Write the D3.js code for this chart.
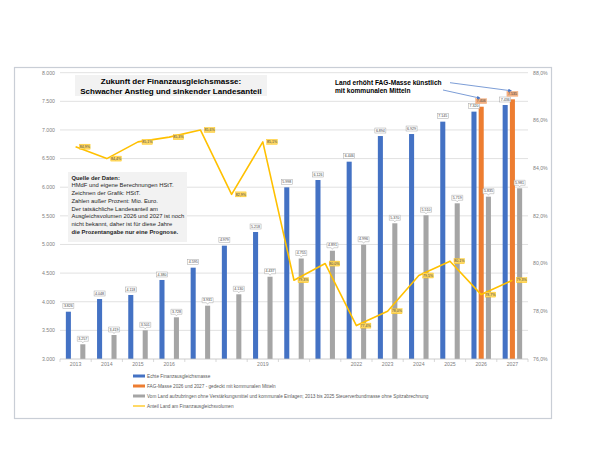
<!DOCTYPE html>
<html><head><meta charset="utf-8">
<script src="https://cdn.jsdelivr.net/npm/d3@7"></script>
<style>body{margin:0;background:#fff}svg{display:block}text{font-family:"Liberation Sans",Arial,sans-serif}</style>
</head><body>
<svg id="c" width="589" height="475"></svg>
<script>
const years = ["2013","2014","2015","2016","2017","2018","2019","2020","2021","2022","2023","2024","2025","2026","2027"];
const tickLabels = ["2013","2014","2015","2016","","","2019","","","2022","2023","2024","2025","2026","2027"];
const echteMasse = [3826,4048,4118,4380,4595,4979,5218,5998,6126,6446,6894,6929,7145,7320,7436];
const fagKommunal = [null,null,null,null,null,null,null,null,null,null,null,null,null,7406,7535];
const vomLand = [3257,3419,3501,3728,3931,4130,4437,4755,4891,4996,5370,5510,5719,5835,5981];
const anteilLand = [84.9,84.4,85.1,85.3,85.6,82.9,85.1,79.3,80.0,77.4,78.0,79.5,80.1,78.7,79.3];
const leftTicks = [3000,3500,4000,4500,5000,5500,6000,6500,7000,7500,8000];
const rightTicks = [76,78,80,82,84,86,88];
const seriesNames = ["Echte Finanzausgleichsmasse","FAG-Masse 2026 und 2027 - gedeckt mit kommunalen Mitteln","Vom Land aufzubringen ohne Verstärkungsmittel und kommunale Einlagen; 2013 bis 2025 Steuerverbundmasse ohne Spitzabrechnung","Anteil Land am Finanzausgleichsvolumen"];
const colors = ["#4472C4","#ED7D31","#A5A5A5","#FFC000"];
const infoLines = ["Quelle der Daten:","HMdF und eigene Berechnungen HStT.","Zeichnen der Grafik: HStT.","Zahlen außer Prozent: Mio. Euro.","Der tatsächliche Landesanteil am","Ausgleichsvolumen 2026 und 2027 ist noch","nicht bekannt, daher ist für diese Jahre","die Prozentangabe nur eine Prognose."];

const svg = d3.select("#c");
const L=60,R=528,T=72.7,B=359;
const fmt = d3.formatLocale({decimal:",",thousands:".",grouping:[3]});
const fInt = fmt.format(",.0f");
const fPct = fmt.format(".1f");

svg.append("rect").attr("x",14.5).attr("y",67.5).attr("width",537).attr("height",351)
  .attr("fill","#fff").attr("stroke","#c9ced6").attr("stroke-width",1.2);

const x0 = d3.scaleBand().domain(years).range([L,R]).paddingInner(0.375).paddingOuter(0.1875);
const x1 = d3.scaleBand().domain([0,1,2]).range([0,x0.bandwidth()]).paddingInner(0.3);
const yL = d3.scaleLinear().domain([3000,8000]).range([B,T]);
const yR = d3.scaleLinear().domain([76,88]).range([B,T]);

svg.append("g").selectAll("line").data(leftTicks.slice(1)).join("line")
  .attr("x1",L).attr("x2",R).attr("y1",d=>yL(d)).attr("y2",d=>yL(d))
  .attr("stroke","#d9d9d9").attr("stroke-width",0.8);

svg.append("g").selectAll("text").data(leftTicks).join("text")
  .attr("x",55).attr("y",d=>yL(d)+1.8).attr("text-anchor","end")
  .attr("font-size",5.2).attr("fill","#7f7f7f").text(d=>fInt(d));
svg.append("g").selectAll("text").data(rightTicks).join("text")
  .attr("x",533).attr("y",d=>yR(d)+1.8).attr("text-anchor","start")
  .attr("font-size",5.2).attr("fill","#7f7f7f").text(d=>fPct(d)+"%");

const bars = [];
years.forEach((y,i)=>{
  [echteMasse[i],fagKommunal[i],vomLand[i]].forEach((v,s)=>{ if(v!=null) bars.push({y,s,v}); });
});
svg.append("g").selectAll("rect").data(bars).join("rect")
  .attr("x",d=>x0(d.y)+x1(d.s)).attr("width",x1.bandwidth())
  .attr("y",d=>yL(d.v)).attr("height",d=>B-yL(d.v)).attr("fill",d=>colors[d.s]);

svg.append("line").attr("x1",L).attr("x2",R).attr("y1",B).attr("y2",B).attr("stroke","#bfbfbf").attr("stroke-width",0.8);
svg.append("g").selectAll("line").data(d3.range(years.length+1)).join("line")
  .attr("x1",i=>L+i*x0.step()).attr("x2",i=>L+i*x0.step()).attr("y1",B).attr("y2",B+3)
  .attr("stroke","#bfbfbf").attr("stroke-width",0.6);
svg.append("g").selectAll("text").data(years).join("text")
  .attr("x",d=>x0(d)+x0.bandwidth()/2).attr("y",B+6.5).attr("text-anchor","middle")
  .attr("font-size",5.2).attr("fill","#7f7f7f").text((d,i)=>tickLabels[i]);

const lineGen = d3.line().x((d,i)=>x0(years[i])+x0.bandwidth()/2).y(d=>yR(d));
svg.append("path").datum(anteilLand).attr("d",lineGen).attr("fill","none")
  .attr("stroke",colors[3]).attr("stroke-width",1.6).attr("stroke-linejoin","round");

const lab = svg.append("g");
bars.forEach(d=>{
  const cx = x0(d.y)+x1(d.s)+x1.bandwidth()/2;
  const top = yL(d.v);
  const w=11,h=5;
  const by = top-3-h;
  const g = lab.append("g");
  if(d.s===2){
    g.append("path").attr("d",`M${cx-w/2},${by}h${w}v${h}h${-w/2+1.2}l-1.2,1.6l-1.2,-1.6h${-w/2+1.2}z`)
      .attr("fill","#fff").attr("stroke","#a6a6a6").attr("stroke-width",0.5);
  } else {
    g.append("rect").attr("x",cx-w/2).attr("y",by).attr("width",w).attr("height",h)
      .attr("fill",d.s===1?"#F4B183":"#fff").attr("stroke",d.s===1?"#F4B183":"#a6a6a6").attr("stroke-width",0.5);
  }
  g.append("text").attr("x",cx).attr("y",by+3.6).attr("text-anchor","middle")
    .attr("font-size",3.6).attr("fill","#404040").text(fInt(d.v));
});

const ll = svg.append("g");
anteilLand.forEach((v,i)=>{
  const px = x0(years[i])+x0.bandwidth()/2+4;
  const py = yR(v);
  ll.append("rect").attr("x",px).attr("y",py-2.5).attr("width",10.5).attr("height",5)
    .attr("fill","#FFD966").attr("stroke","#FFC000").attr("stroke-width",0.4);
  ll.append("text").attr("x",px+5.25).attr("y",py+1.2).attr("text-anchor","middle")
    .attr("font-size",3.6).attr("fill","#404040").text(fPct(v)+"%");
});

svg.append("rect").attr("x",75).attr("y",75).attr("width",192).attr("height",21).attr("fill","#f2f2f2");
svg.append("text").attr("x",171).attr("y",84).attr("text-anchor","middle").attr("font-size",8).attr("font-weight","bold").attr("fill","#000").text("Zukunft der Finanzausgleichsmasse:");
svg.append("text").attr("x",171).attr("y",93.5).attr("text-anchor","middle").attr("font-size",8).attr("font-weight","bold").attr("fill","#000").text("Schwacher Anstieg und sinkender Landesanteil");

svg.append("rect").attr("x",68).attr("y",172).attr("width",119).attr("height",70).attr("fill","#f2f2f2");
infoLines.forEach((t,i)=>{
  svg.append("text").attr("x",71.5).attr("y",179.5+i*7.75).attr("font-size",5.85)
    .attr("font-weight",(i===0||i===7)?"bold":"normal").attr("fill","#262626").text(t);
});

svg.append("text").attr("x",335).attr("y",85).attr("font-size",6.6).attr("font-weight","bold").attr("fill","#000").text("Land erhöht FAG-Masse künstlich");
svg.append("text").attr("x",335).attr("y",93).attr("font-size",6.6).attr("font-weight","bold").attr("fill","#000").text("mit kommunalen Mitteln");
const defs = svg.append("defs");
defs.append("marker").attr("id","ah").attr("viewBox","0 0 10 10").attr("refX",9).attr("refY",5)
  .attr("markerWidth",5).attr("markerHeight",5).attr("orient","auto")
  .append("path").attr("d","M0,0L10,5L0,10z").attr("fill","#4472C4");
const oi = [13,14];
const starts = [[443,90],[450,82.7]];
oi.forEach((i,k)=>{
  const tx = x0(years[i])+x1(1)+x1.bandwidth()/2;
  const ty = yL(fagKommunal[i])-8.5;
  svg.append("line").attr("x1",starts[k][0]).attr("y1",starts[k][1]).attr("x2",tx-1).attr("y2",ty)
    .attr("stroke","#4472C4").attr("stroke-width",0.7).attr("marker-end","url(#ah)");
});

const lg = svg.append("g");
seriesNames.forEach((n,i)=>{
  const y = 376+i*10;
  if(i<3) lg.append("rect").attr("x",133).attr("y",y-1.5).attr("width",12).attr("height",3).attr("fill",colors[i]);
  else lg.append("line").attr("x1",133).attr("x2",145).attr("y1",y).attr("y2",y).attr("stroke",colors[i]).attr("stroke-width",1.2);
  lg.append("text").attr("x",147).attr("y",y+1.7).attr("font-size",4.7).attr("fill","#595959").text(n);
});
</script>
</body></html>
